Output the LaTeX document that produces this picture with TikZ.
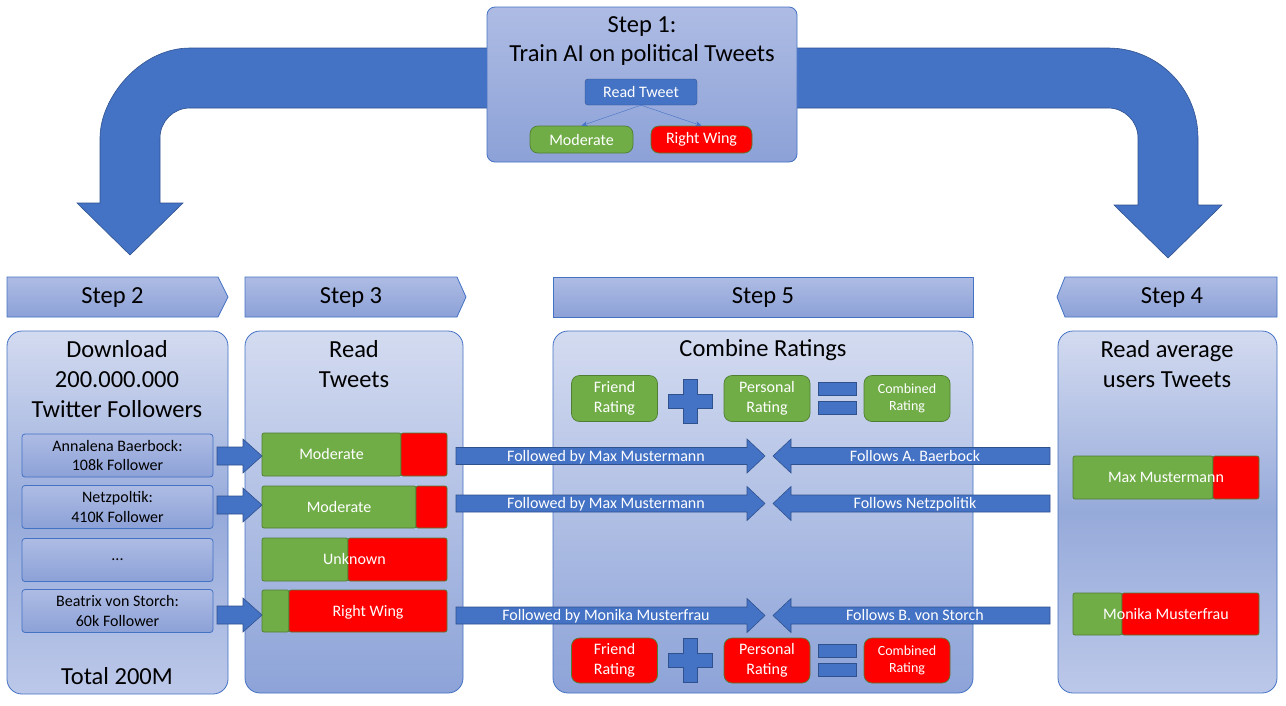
\documentclass[tikz,border=0pt]{standalone}
\usepackage{fontspec}
\setmainfont{Carlito}
\usetikzlibrary{arrows.meta}
\definecolor{accblue}{HTML}{4472C4}
\definecolor{accline}{HTML}{2F528F}
\definecolor{modgreen}{HTML}{70AD47}
\definecolor{greenline}{HTML}{507E32}
\definecolor{wingred}{HTML}{FF0000}
\definecolor{paneltop}{RGB}{211,219,240}
\definecolor{panelmid}{RGB}{150,170,218}
\definecolor{panelbot}{RGB}{141,163,216}
\definecolor{panellow}{RGB}{188,200,233}
\definecolor{tabtop}{RGB}{174,188,228}
\definecolor{tabbot}{RGB}{140,161,215}
\newcommand{\bigtxt}{\fontsize{24.5}{30}\selectfont}
\newcommand{\midtxt}{\fontsize{16}{19.5}\selectfont}
\newcommand{\smalltxt}{\fontsize{14}{16.5}\selectfont}
\tikzset{
  bendarrow/.style={fill=accblue, draw=accline, line width=0.6pt},
  stepbox/.style={draw=accblue, line width=0.8pt, top color=tabtop, bottom color=tabbot},
  panel/.style={draw=accblue, line width=0.8pt, rounded corners=15pt, top color=paneltop, bottom color=panelbot},
  panelfade/.style={draw=accblue, line width=0.8pt, rounded corners=15pt, top color=paneltop, bottom color=panellow, middle color=panelmid},
  title/.style={font=\bigtxt, align=center, inner sep=0pt},
  item/.style={draw=accblue, line width=0.8pt, rounded corners=3pt, top color=tabtop, bottom color=tabbot,
    minimum width=191pt, minimum height=43pt, font=\midtxt, align=center, inner sep=0pt},
  greenbar/.style={fill=modgreen, draw=greenline, line width=0.7pt, rounded corners=2pt},
  redbar/.style={fill=wingred, draw=greenline, line width=0.7pt, rounded corners=2pt},
  bartext/.style={text=white, font=\midtxt, inner sep=0pt, text height=12pt, text depth=2pt},
  rating/.style={draw=greenline, line width=0.7pt, rounded corners=8pt, text=white, align=center,
    minimum width=86pt, minimum height=46pt, inner sep=0pt, font=\midtxt},
  signs/.style={fill=accblue, draw=accline, line width=0.6pt}
}
\begin{document}
\begin{tikzpicture}[x=1pt,y=-1pt]
\useasboundingbox (0,0) rectangle (1286,705);
\fill[white] (0,0) rectangle (1286,705);
% bent arrows behind step 1
\draw[bendarrow] (620,48) -- (190,48) .. controls (140.3,48) and (100,97.7) .. (100,138) -- (100,203)
  -- (77,203) -- (130,255) -- (183,203) -- (160,203) -- (160,138)
  .. controls (160,121.4) and (173.4,108) .. (190,108) -- (620,108) -- cycle;
\draw[bendarrow] (660,48) -- (1108,48) .. controls (1157.7,48) and (1198,88.3) .. (1198,138) -- (1198,205)
  -- (1222,205) -- (1168,258) -- (1114,205) -- (1138,205) -- (1138,138)
  .. controls (1138,121.4) and (1124.6,108) .. (1108,108) -- (660,108) -- cycle;

% step 1
\draw[stepbox, rounded corners=8pt] (487,7) rectangle (797,162);
\node[title] (s1) at (642,41) {Step 1:\\[-1pt]Train AI on political Tweets};
\node[draw=accline, fill=accblue, text=white, rounded corners=3pt, minimum width=112pt, minimum height=26pt,
  inner sep=0pt, font=\midtxt] (read) at (641,92) {Read Tweet};
\node[rating, fill=modgreen, minimum width=103pt, minimum height=27pt] (mod) at (581.5,139.5) {Moderate};
\node[rating, fill=wingred, minimum width=101pt, minimum height=27pt] (wing) at (701.5,139.5) {Right Wing};
\draw[accblue, -{Stealth[length=6pt,width=5pt]}] (read.south) -- (mod.north);
\draw[accblue, -{Stealth[length=6pt,width=5pt]}] (read.south) -- (wing.north);

% step tabs
\draw[stepbox] (7,277) -- (218,277) -- (228,297) -- (218,317) -- (7,317) -- cycle;
\draw[stepbox] (245,277) -- (457,277) -- (466,297) -- (457,317) -- (245,317) -- cycle;
\draw[stepbox] (553,277) rectangle (973,317);
\draw[stepbox] (1065,277) -- (1277,277) -- (1277,317) -- (1065,317) -- (1057,297) -- cycle;
\node[title] (t2) at (112.5,298) {Step 2};
\node[title] (t3) at (351,298) {Step 3};
\node[title] (t5) at (763,298) {Step 5};
\node[title] (t4) at (1172,298) {Step 4};

% panels
\draw[panelfade] (7,331) rectangle (228,694);
\draw[panel] (245,331) rectangle (463,693);
\draw[panel] (553,331) rectangle (973,693);
\draw[panelfade] (1058,331) rectangle (1277,693);
\node[title] (p2) at (117,379) {Download\\200.000.000\\Twitter Followers};
\node[title] (p3) at (354,364) {Read\\Tweets};
\node[title] (p5) at (763,350) {Combine Ratings};
\node[title] (p4) at (1167,364) {Read average\\users Tweets};
\node[title] (total) at (117,676) {Total 200M};

% step 2 accounts
\node[item] (acc1) at (117.5,455.5) {Annalena Baerbock:\\108k Follower};
\node[item] (acc2) at (117.5,507) {Netzpoltik:\\410K Follower};
\node[item] (acc3) at (117.5,560) {...};
\node[item] (acc4) at (117.5,611) {Beatrix von Storch:\\60k Follower};

% step 3 bars
\foreach \yt/\yb/\xs in {433/476/401, 486/528/416, 538/581/348, 590/632/289}{
  \draw[greenbar] (262,\yt) rectangle (\xs,\yb);
  \draw[redbar] (\xs,\yt) rectangle (447,\yb);
}
\node[bartext] (bar1) at (331.5,454.5) {Moderate};
\node[bartext] (bar2) at (339,507) {Moderate};
\node[bartext] (bar3) at (354.5,559.5) {Unknown};
\node[bartext] (bar4) at (368,611) {Right Wing};

% step 4 users
\draw[greenbar] (1073,456) rectangle (1213,499);
\draw[redbar] (1213,456) rectangle (1259,499);
\draw[greenbar] (1073,593) rectangle (1122,635);
\draw[redbar] (1122,593) rectangle (1259,635);
\node[bartext] (max) at (1166,477.5) {Max Mustermann};
\node[bartext] (monika) at (1166,614) {Monika Musterfrau};

% step 5 ratings
\node[rating, fill=modgreen] (fr1) at (614.5,398.5) {Friend\\Rating};
\node[rating, fill=modgreen] (pr1) at (767,398.5) {Personal\\Rating};
\node[rating, fill=modgreen, font=\smalltxt] (cr1) at (907,398.5) {Combined\\Rating};
\node[rating, fill=wingred, minimum height=45pt] (fr2) at (614.5,660.5) {Friend\\Rating};
\node[rating, fill=wingred, minimum height=45pt] (pr2) at (767,660.5) {Personal\\Rating};
\node[rating, fill=wingred, minimum height=45pt, font=\smalltxt] (cr2) at (907,660.5) {Combined\\Rating};
\foreach \yc in {401,660.5}{
  \draw[signs, shift={(690,\yc)}] (-7,-22) -- (7,-22) -- (7,-7) -- (22,-7) -- (22,7) -- (7,7) -- (7,22)
    -- (-7,22) -- (-7,7) -- (-22,7) -- (-22,-7) -- (-7,-7) -- cycle;
}
\foreach \yc in {398,660.5}{
  \draw[signs] (818,\yc-16) rectangle (856,\yc-3);
  \draw[signs] (818,\yc+3) rectangle (856,\yc+16);
}

% feed arrows step 2 -> step 3
\foreach \yc in {456,505,615}{
  \draw[signs] (217,\yc-9) -- (243,\yc-9) -- (243,\yc-17) -- (262,\yc) -- (243,\yc+17) -- (243,\yc+9)
    -- (217,\yc+9) -- cycle;
}

% follow arrows
\foreach \yc in {456,503.5,615.5}{
  \draw[signs] (456,\yc-8.5) -- (747,\yc-8.5) -- (747,\yc-17) -- (765,\yc) -- (747,\yc+17)
    -- (747,\yc+8.5) -- (456,\yc+8.5) -- cycle;
  \draw[signs] (1050,\yc-8.5) -- (791,\yc-8.5) -- (791,\yc-17) -- (773,\yc) -- (791,\yc+17)
    -- (791,\yc+8.5) -- (1050,\yc+8.5) -- cycle;
}
\node[bartext] (fw1) at (606,456) {Followed by Max Mustermann};
\node[bartext] (fw2) at (606,503.5) {Followed by Max Mustermann};
\node[bartext] (fw4) at (606,615.5) {Followed by Monika Musterfrau};
\node[bartext] (bk1) at (915,456) {Follows A. Baerbock};
\node[bartext] (bk2) at (915,503.5) {Follows Netzpolitik};
\node[bartext] (bk4) at (915,615.5) {Follows B. von Storch};
\end{tikzpicture}
\end{document}
